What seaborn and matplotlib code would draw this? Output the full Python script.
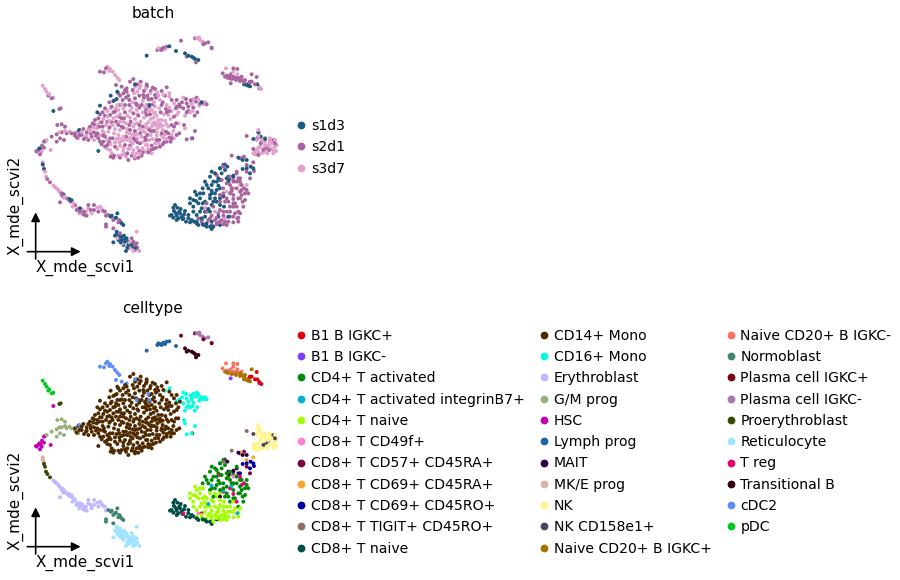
import matplotlib
matplotlib.use("Agg")
import matplotlib.pyplot as plt
from matplotlib.lines import Line2D
import pandas as pd
import seaborn as sns

sns.set_style("white")
plt.rcParams["text.color"] = "black"

celltypes = ["B1 B IGKC+","B1 B IGKC-","CD4+ T activated","CD4+ T activated integrinB7+","CD4+ T naive","CD8+ T CD49f+",
 "CD8+ T CD57+ CD45RA+","CD8+ T CD69+ CD45RA+","CD8+ T CD69+ CD45RO+","CD8+ T TIGIT+ CD45RO+","CD8+ T naive",
 "CD14+ Mono","CD16+ Mono","Erythroblast","G/M prog","HSC","Lymph prog","MAIT","MK/E prog","NK","NK CD158e1+","Naive CD20+ B IGKC+",
 "Naive CD20+ B IGKC-","Normoblast","Plasma cell IGKC+","Plasma cell IGKC-","Proerythroblast","Reticulocyte","T reg","Transitional B","cDC2","pDC"]
celltype_colors = ["#E0000B","#7F3DFF","#008A0A","#00B0CC","#A3FF00","#FF7FD0","#7A0046","#FFA52E","#00009E","#8C6F60","#004D46",
 "#4F2A00","#00FFDE","#BDB8FF","#96B07A","#C400B5","#1F64A3","#2A0047","#DDB0AA","#FFF58F","#4F4260","#A67400",
 "#FF6F61","#3C8570","#7F0010","#A678B0","#334A00","#9EE3FF","#EC0070","#32000F","#5C8DF5","#00C81E"]
batches = ["s1d3","s2d1","s3d7"]
batch_colors = ["#1D5A7F","#A9639F","#E2A1CB"]

# Positions, per cell type and batch
mono_s3 = [(345,185),(362,183),(378,190),(352,200),(390,205),(412,202),(430,210),(448,215),(420,225),(402,232),(380,238),(355,240),(338,232),(350,255),(368,262),(330,258),(310,250),(292,240),(272,250),(395,255),(418,250),(440,240),(462,235),(455,258),(432,268),(410,272),(392,282),(405,292),(420,296),(436,288),(452,282),(470,270),(395,305),(412,310),(428,315),(445,305),(460,318),(378,298),(362,290),(345,282),(322,272),(300,268),(280,280),(262,275),(240,292),(258,300),(278,300),(300,290),(318,295),(340,305),(358,312),(375,322),(392,330),(410,332),(430,338),(300,315),(320,322),(338,328),(352,340),(370,350),(388,345),(405,355),(282,325),(265,320),(248,318),(230,310),(212,318),(290,342),(305,348),(322,345),(338,355),(352,368),(368,370),(385,372),(272,358),(262,372),(275,385),(295,392),(310,378),(325,372),(338,385),(300,362),(285,352),(350,385),(318,395),(400,278),(415,285),(428,302),(405,300),(385,292),(330,338),(345,330),(310,335),(295,330),
 (262,258),(295,255),(335,248),(375,246),(405,245),(448,248),(475,262),(250,282),(290,275),(330,278),(372,278),(405,262),(445,270),(232,300),(268,288),(310,290),(350,295),(385,310),(420,305),(455,330),(205,312),(240,330),(285,312),(322,312),(365,335),(398,342),(435,328),(222,345),(262,345),(298,340),(332,350),(378,360),(415,355),(270,375),(305,390),(340,375),(375,380),(310,368),(345,395),(382,360),
 (398,295),(412,298),(425,285),(440,298),(410,322),(392,318),(378,308),(424,330),(440,342),(402,265),(385,258),(352,268),(342,298),(328,325),(312,345),(298,352),(352,328),(368,318),(330,368),(292,372),(315,388),(360,385),(395,385),(415,212),(388,225),(368,228),(342,205),(358,190),(270,305),(252,325),(288,250),(305,238),(220,308),(200,332),(185,320),(475,295),(462,340)]
mono_s2 = [(165,325),(175,318),(185,330),(170,338),(192,342),(200,322),(210,305),(222,298),(215,335),(235,340),(250,350),(232,325),(255,335),(240,268),(255,250),(268,232),(275,245),(295,205),(315,195),(330,170),(340,162),(362,170),(380,178),(398,188),(325,212),(308,225),(285,260),(262,290),(328,240),(345,220),(372,218),(395,222),(440,187),(470,225),(480,245),(440,262),(468,295),(478,325),(455,340),(440,350),(420,365),(400,372),(385,382),(365,392),(345,400),(325,405),(300,398),(280,398),(262,360),(245,358),(310,308),(330,315),(360,325),(375,338),(395,318),(425,325),(445,325),(470,330),(455,300),(380,270),(365,240),(340,265),(295,300),(270,340),(315,360),(345,345),(360,355),(410,345),(300,240),(285,225),(225,285),(238,305),(255,272),(358,212),(408,218),(425,240),(378,252),(388,315),(358,300),(332,290),(305,280),(250,332),(198,335),
 (248,262),(280,262),(315,262),(358,248),(388,245),(428,232),(468,250),(235,280),(270,270),(312,280),(355,272),(390,268),(422,262),(462,275),(218,295),(248,305),(288,290),(328,300),(368,305),(402,318),(438,320),(462,305),(190,312),(222,322),(268,308),(305,305),(345,318),(382,330),(418,345),(452,350),(178,330),(205,345),(240,350),(278,340),(318,335),(352,352),(395,362),(432,352),(255,365),(282,392),(322,385),(358,378),(392,375),(330,362),(368,382),(320,200),(338,195),(372,198),(405,192),(425,198),(300,212),(318,218),(382,212),(405,210),(455,225),
 (448,258),(438,252),(315,240),(348,235),(398,238),(375,262),(298,275),(275,292),(245,292),(228,332),(212,325),(268,352),(285,365),(340,340),(378,345),(408,368),(428,358),(448,338),(335,392),(355,398),(272,395),(310,205),(328,225),(352,178),(370,210),(392,198)]
mono_s1 = [(235,378),(240,242),(272,212),(290,222),(292,200),(380,185),(280,228),(232,262),(517,340)]
cd16_s2 = [(486,232),(498,222),(512,226),(528,230),(545,232),(560,238),(505,245),(520,248),(532,262),(524,272),(500,262),(490,250),(470,245),(492,300),(525,318),(500,343),(515,340),(435,212),(500,235),(540,236),(530,218),(505,258),(478,238)]
cd16_s3 = [(515,238),(535,224),(550,238),(538,242),(490,218),(520,222),(510,262),(448,205),(495,310),(515,232),(555,232),(495,272),(518,258)]
cd16_s1 = [(545,232)]

tnaive_cd4_s2 = [(560,560),(575,572),(590,578),(605,585),(625,590),(640,575),(620,560),(600,555),(580,545),(560,535),(610,572),(630,575),(655,578),(565,585),(590,595),(610,598),(640,592),(545,590),(550,600),(575,600),(620,600),(645,565),(660,565),(630,560),(640,545),(595,565),(610,560),(570,580),(585,585),(600,590),(615,590),(655,590)]
tnaive_cd4_s1 = [(530,510),(520,525),(535,535),(520,545),(545,550),(555,575),(575,590),(600,600),(590,530),(530,570),(545,585),(570,520),(510,535),(550,505),(555,530),(575,540),(600,540),(540,520),(565,555),(525,500),(540,505),(528,528),(548,535),(510,520),(520,560),(540,560),(530,590),(555,560),(570,560),(585,520),(600,520),(612,545),(625,575),(560,595),(580,605),(595,575)]
tnaive_cd4_s3 = [(585,560),(555,548),(615,580),(595,590)]
tnaive_cd8_s1 = [(465,540),(472,548),(462,558),(478,560),(455,570),(470,572),(485,575),(492,568),(498,590),(510,592),(522,590),(535,600),(548,598),(560,605),(575,612),(470,585),(482,552),(505,580),(450,572),(460,548),(468,565),(480,565),(488,582),(505,570),(515,585),(530,595),(555,600),(570,605),(475,580),(460,578),(495,558)]
tact_s2 = [(590,450),(605,465),(630,480),(650,470),(660,500),(675,505),(640,510),(620,520),(600,510),(660,520),(645,535),(630,545),(615,530),(668,530),(655,560),(675,525),(640,465),(610,490),(620,475),(635,490),(650,490),(665,480),(680,495),(655,520),(640,535),(625,530),(610,505),(665,510),(670,545),(685,505),(630,455),(650,440)]
tact_s1 = [(575,440),(580,470),(565,490),(555,470),(585,505),(570,510),(580,530),(600,430),(610,420),(625,470),(595,482),(548,490),(600,490),(585,445),(595,460),(570,455),(560,480),(575,480),(590,470),(605,445),(615,435),(590,495),(575,505),(620,460)]
tact_s3 = [(660,480),(680,480),(640,490),(620,500)]
treg_s2 = [(665,495),(660,470),(630,505),(640,522),(610,515),(650,545),(672,490)]
treg_s1 = [(490,580),(545,580),(600,465)]
tint_s1 = [(575,497),(600,430),(565,552),(610,512)]
tint_s2 = [(652,580),(635,498)]
cd49_s2 = [(488,582),(535,580),(640,470)]
cd57_s1 = [(640,455),(628,462)]
cd57_s2 = [(680,440),(672,395),(660,400),(690,460),(655,460)]
cd69a_s2 = [(700,412),(680,420),(665,400)]
cd69o_s1 = [(680,430),(692,425),(700,430),(690,445),(668,432)]
cd69o_s2 = [(660,460),(702,438)]
tigit_s2 = [(680,333),(635,392),(610,425),(615,418)]
mait_s1 = [(640,452),(655,398),(668,405),(612,420),(622,425),(625,455),(680,405)]
mait_s2 = [(650,445),(600,530),(590,598)]
nk_s3 = [(710,345),(718,325),(715,315),(725,345),(705,380),(720,365),(735,350),(750,340),(765,345),(770,360),(760,375),(740,375),(725,385),(710,375),(745,360),(755,355),(768,378),(730,372),(705,388),(715,335),(725,355),(715,368),(735,362),(755,370),(765,365),(748,348),(760,385),(715,382),(700,385),(730,382),(742,385)]
nk_s2 = [(722,355),(715,390),(735,340),(748,375),(700,372)]
nk_s1 = [(715,322),(722,335),(735,342),(712,340)]
nk158_s2 = [(730,375),(745,362),(738,368),(760,345),(765,355)]
nk158_s1 = [(700,342)]
lymph_s2 = [(412,75),(420,72),(430,68),(440,65),(425,75)]
lymph_s3 = [(415,70),(435,72)]
lymph_s1 = [(448,64),(380,92),(468,78)]
trans_s1 = [(495,85),(505,92),(515,95),(525,102),(535,105),(520,98)]
trans_s2 = [(500,95),(528,112)]
plasmam_s3 = [(530,40),(540,45),(548,50),(538,38)]
plasmam_s2 = [(555,55),(565,52),(575,68)]
plasmap_s2 = [(483,47),(550,58),(575,70),(525,40)]
cdc2_s3 = [(262,125),(270,132),(278,140),(285,150),(292,158),(298,165),(268,138)]
cdc2_s2 = [(240,140),(252,142),(258,130),(288,180),(305,185),(350,240),(385,222),(320,190)]
cdc2_s1 = [(178,315),(345,178),(388,240)]
salmon_s2 = [(608,145),(620,152),(632,148),(640,130),(652,132),(640,155),(655,160),(665,155),(628,160)]
salmon_s3 = [(618,130),(640,140),(652,148)]
gold_s2 = [(622,158),(635,162),(648,165),(660,168),(672,172),(682,178),(695,148),(650,158),(615,155),(628,155),(642,160),(660,160),(675,165),(688,172),(665,165)]
gold_s1 = [(680,180),(690,184),(672,178)]
red_s2 = [(695,170),(710,156),(705,178),(690,170)]
red_s1 = [(685,182),(712,178)]
red_s3 = [(718,186),(724,192)]
b1m_s2 = [(632,175),(718,190)]
gmp_s2 = [(95,335),(110,328),(125,322),(140,325),(155,325),(165,332),(110,350),(132,345),(120,340),(112,300),(125,298),(135,305)]
gmp_s3 = [(118,322),(135,318),(148,320),(80,345),(175,340)]
hsc_s2 = [(50,380),(55,375),(62,372),(72,350),(66,362),(60,388),(72,368)]
hsc_s1 = [(58,370),(75,348)]
hsc_s3 = [(48,378),(65,380),(92,375)]
mke_s3 = [(68,412),(70,422),(72,430)]
mke_s1 = [(68,418)]
pro_s3 = [(75,440),(78,455)]
pro_s1 = [(72,432)]
pro_s2 = [(82,462),(90,472),(118,252),(122,250)]
ery_s3 = [(100,482),(110,490),(118,500),(130,518),(145,525),(160,535),(172,550),(185,552),(198,560),(215,565),(232,548),(245,552),(105,486),(115,495),(135,515),(158,545),(178,565),(205,550),(240,545)]
ery_s2 = [(125,510),(140,520),(152,530),(165,540),(180,560),(190,568),(200,572),(212,555),(222,540),(235,560),(250,558),(258,572),(205,540),(120,532),(125,505),(150,528),(170,555),(192,560),(222,555),(255,560),(195,570)]
ery_s1 = [(130,508),(148,522),(180,550),(155,526)]
norm_s1 = [(272,575),(285,580),(300,590),(292,565),(310,600),(275,572),(288,578),(305,595)]
norm_s2 = [(265,570),(280,585),(295,592),(258,605),(280,610),(258,598),(298,585)]
ret_s1 = [(290,628),(298,635),(305,645),(315,650),(325,660),(312,632),(335,665),(320,640),(345,668),(280,652),(318,678),(285,632),(295,645),(305,635),(315,642),(325,650),(310,660),(322,668),(335,658),(302,652),(290,620)]
ret_s2 = [(300,625),(350,655),(340,650),(335,640),(345,675),(345,660),(352,668)]
ret_s3 = [(292,640),(308,656),(325,672),(358,678),(350,620),(328,652),(330,670),(340,678)]
pdc_s3 = [(68,182),(75,192),(80,200),(88,208),(100,218)]
pdc_s2 = [(85,212),(95,220)]
hsc_extra_s1 = [(100,258)]

point_groups = [
 ("CD14+ Mono","s2d1",mono_s2),("CD14+ Mono","s3d7",mono_s3),("CD14+ Mono","s1d3",mono_s1),
 ("CD16+ Mono","s2d1",cd16_s2),("CD16+ Mono","s3d7",cd16_s3),("CD16+ Mono","s1d3",cd16_s1),
 ("CD4+ T naive","s2d1",tnaive_cd4_s2),("CD4+ T naive","s1d3",tnaive_cd4_s1),("CD4+ T naive","s3d7",tnaive_cd4_s3),
 ("CD8+ T naive","s1d3",tnaive_cd8_s1),
 ("CD4+ T activated","s2d1",tact_s2),("CD4+ T activated","s1d3",tact_s1),("CD4+ T activated","s3d7",tact_s3),
 ("T reg","s2d1",treg_s2),("T reg","s1d3",treg_s1),
 ("CD4+ T activated integrinB7+","s1d3",tint_s1),("CD4+ T activated integrinB7+","s2d1",tint_s2),
 ("CD8+ T CD49f+","s2d1",cd49_s2),("CD8+ T CD57+ CD45RA+","s1d3",cd57_s1),("CD8+ T CD57+ CD45RA+","s2d1",cd57_s2),
 ("CD8+ T CD69+ CD45RA+","s2d1",cd69a_s2),("CD8+ T CD69+ CD45RO+","s1d3",cd69o_s1),("CD8+ T CD69+ CD45RO+","s2d1",cd69o_s2),
 ("CD8+ T TIGIT+ CD45RO+","s2d1",tigit_s2),("MAIT","s1d3",mait_s1),("MAIT","s2d1",mait_s2),
 ("NK","s3d7",nk_s3),("NK","s2d1",nk_s2),("NK","s1d3",nk_s1),("NK CD158e1+","s2d1",nk158_s2),("NK CD158e1+","s1d3",nk158_s1),
 ("Lymph prog","s2d1",lymph_s2),("Lymph prog","s3d7",lymph_s3),("Lymph prog","s1d3",lymph_s1),
 ("Transitional B","s1d3",trans_s1),("Transitional B","s2d1",trans_s2),
 ("Plasma cell IGKC-","s3d7",plasmam_s3),("Plasma cell IGKC-","s2d1",plasmam_s2),("Plasma cell IGKC+","s2d1",plasmap_s2),
 ("cDC2","s3d7",cdc2_s3),("cDC2","s2d1",cdc2_s2),("cDC2","s1d3",cdc2_s1),
 ("Naive CD20+ B IGKC-","s2d1",salmon_s2),("Naive CD20+ B IGKC-","s3d7",salmon_s3),
 ("Naive CD20+ B IGKC+","s2d1",gold_s2),("Naive CD20+ B IGKC+","s1d3",gold_s1),
 ("B1 B IGKC+","s2d1",red_s2),("B1 B IGKC+","s1d3",red_s1),("B1 B IGKC+","s3d7",red_s3),("B1 B IGKC-","s2d1",b1m_s2),
 ("G/M prog","s2d1",gmp_s2),("G/M prog","s3d7",gmp_s3),("HSC","s2d1",hsc_s2),("HSC","s1d3",hsc_s1),("HSC","s3d7",hsc_s3),
 ("MK/E prog","s3d7",mke_s3),("MK/E prog","s1d3",mke_s1),("Proerythroblast","s3d7",pro_s3),("Proerythroblast","s1d3",pro_s1),("Proerythroblast","s2d1",pro_s2),
 ("Erythroblast","s3d7",ery_s3),("Erythroblast","s2d1",ery_s2),("Erythroblast","s1d3",ery_s1),
 ("Normoblast","s1d3",norm_s1),("Normoblast","s2d1",norm_s2),
 ("Reticulocyte","s1d3",ret_s1),("Reticulocyte","s2d1",ret_s2),("Reticulocyte","s3d7",ret_s3),
 ("pDC","s3d7",pdc_s3),("pDC","s2d1",pdc_s2),("HSC","s1d3",hsc_extra_s1),
]

rows = [(x,y,c,b) for c,b,pts in point_groups for x,y in pts]
df = pd.DataFrame(rows, columns=["x","y","celltype","batch"])
# Deterministic mixed draw order, so no batch sits wholly on top
df = df.assign(order=(df.x*13+df.y*7)%31).sort_values("order")

fig = plt.figure(figsize=(9,5.8), dpi=100)
W,H = 900,580
def panel(top):
    return fig.add_axes([20/W, 1-(top+240)/H, 270/W, 240/H])

def draw(ax, hue, order, colors, title, ncol, anchor_y):
    sns.scatterplot(data=df, x="x", y="y", hue=hue, hue_order=order, palette=colors,
                    s=8, linewidth=0, legend=False, ax=ax, clip_on=False)
    ax.set_xlim(0,810); ax.set_ylim(720,0); ax.axis("off")
    ax.text(399,-36,title,ha="center",va="center",fontsize=11)
    ax.text(196,729,"X_mde_scvi1",ha="center",va="center",fontsize=11)
    ax.text(-15,540,"X_mde_scvi2",ha="center",va="center",rotation=90,fontsize=11)
    ar = dict(arrowstyle="-|>",color="black",lw=1.2,mutation_scale=13,shrinkA=0,shrinkB=0)
    ax.annotate("",xy=(182,680),xytext=(22,680),arrowprops=ar)
    ax.annotate("",xy=(47,562),xytext=(47,702),arrowprops=ar)
    handles = [Line2D([],[],marker="o",ls="",color=c,ms=5.6,mew=0,label=l) for l,c in zip(order,colors)]
    ax.legend(handles=handles,loc="upper left",bbox_to_anchor=(822,anchor_y),bbox_transform=ax.transData,
              ncol=ncol,frameon=False,fontsize=10.1,borderpad=0,borderaxespad=0,labelspacing=0.52,
              handletextpad=0.2,handlelength=1.0,columnspacing=0.86)

draw(panel(25),"batch",batches,batch_colors,"batch",1,282)
draw(panel(320),"celltype",celltypes,celltype_colors,"celltype",3,26)
fig.savefig("out.png",dpi=100)
